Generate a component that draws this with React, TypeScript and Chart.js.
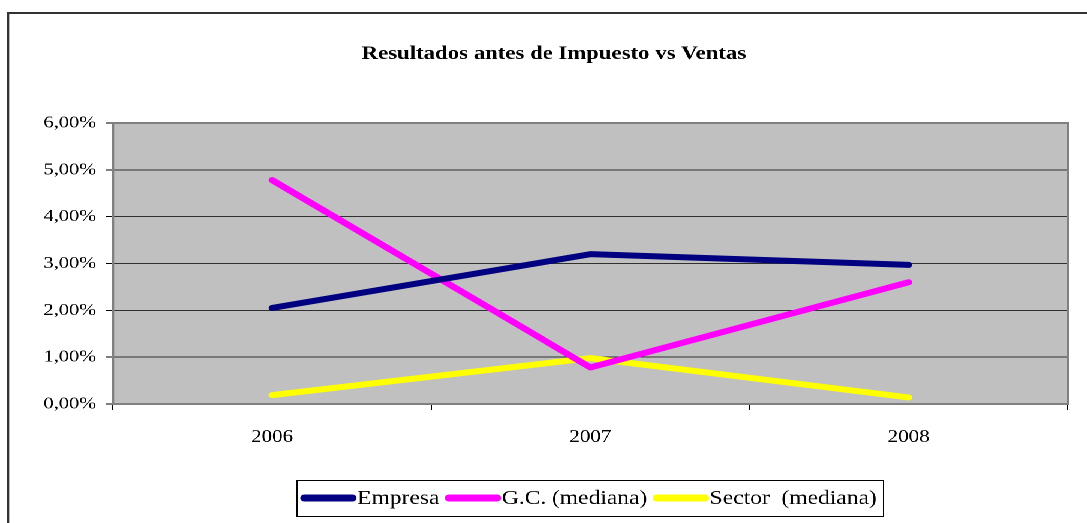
import React, { useEffect, useRef } from "react";
import { Chart, registerables } from "chart.js";

Chart.register(...registerables);

const categories = ["2006", "2007", "2008"];
const empresa = [2.05, 3.2, 2.97];
const gcMediana = [4.78, 0.78, 2.6];
const sectorMediana = [0.19, 0.98, 0.14];
const seriesNames = ["Empresa", "G.C. (mediana)", "Sector  (mediana)"];
const seriesColors = ["#000080", "#FF00FF", "#FFFF00"];
const titleText = "Resultados antes de Impuesto vs Ventas";

const SCALE_X = 1.2;
const W = Math.round(1087 / SCALE_X);
const H = 523;
const SERIF = "'Liberation Serif', 'Times New Roman', serif";

const decorPlugin = {
  id: "decor",
  beforeDraw(chart: any) {
    const { ctx, chartArea } = chart;
    ctx.save();
    ctx.fillStyle = "#FFFFFF";
    ctx.fillRect(0, 0, chart.width, chart.height);
    ctx.strokeStyle = "#333333";
    ctx.lineWidth = 2;
    ctx.strokeRect(8 / SCALE_X, 13, chart.width + 20, chart.height + 20);
    ctx.fillStyle = "#C0C0C0";
    ctx.fillRect(chartArea.left, chartArea.top, chartArea.right - chartArea.left, chartArea.bottom - chartArea.top);
    ctx.fillStyle = "#000";
    ctx.font = `bold 19px ${SERIF}`;
    ctx.textAlign = "center";
    ctx.textBaseline = "middle";
    ctx.fillText(titleText, 554 / SCALE_X, 54);
    ctx.restore();
  },
  afterDatasetsDraw(chart: any) {
    const { ctx, chartArea } = chart;
    ctx.save();
    ctx.strokeStyle = "#808080";
    ctx.lineWidth = 2;
    ctx.strokeRect(chartArea.left, chartArea.top, chartArea.right - chartArea.left, chartArea.bottom - chartArea.top);
    ctx.restore();
  },
  afterDraw(chart: any) {
    const { ctx } = chart;
    ctx.save();
    ctx.font = `19.6px ${SERIF}`;
    ctx.textBaseline = "middle";
    ctx.textAlign = "left";
    const boxLeft = 296 / SCALE_X;
    const boxTop = 480;
    const boxBottom = 516;
    const cy = (boxTop + boxBottom) / 2;
    let x = boxLeft + 4;
    const lineLen = 46;
    chart.data.datasets.forEach((ds: any) => {
      ctx.strokeStyle = ds.borderColor;
      ctx.lineWidth = 7;
      ctx.lineCap = "round";
      ctx.beginPath();
      ctx.moveTo(x + 3, cy);
      ctx.lineTo(x + lineLen - 3, cy);
      ctx.stroke();
      x += lineLen + 1;
      ctx.fillStyle = "#000";
      ctx.fillText(ds.label, x, cy + 1);
      x += ctx.measureText(ds.label).width + 5;
    });
    const boxRight = x;
    ctx.strokeStyle = "#000";
    ctx.lineWidth = 1;
    ctx.strokeRect(Math.round(boxLeft) + 0.5, boxTop + 0.5, Math.round(boxRight - boxLeft), boxBottom - boxTop);
    ctx.restore();
  },
};

export default function App() {
  const canvasRef = useRef<HTMLCanvasElement | null>(null);

  useEffect(() => {
    if (!canvasRef.current) return;
    const values = [empresa, gcMediana, sectorMediana];
    const chart = new Chart(canvasRef.current, {
      type: "line",
      data: {
        labels: categories,
        datasets: values.map((v, i) => ({
          label: seriesNames[i],
          data: v,
          borderColor: seriesColors[i],
          backgroundColor: seriesColors[i],
          borderWidth: 6,
          borderCapStyle: "round",
          borderJoinStyle: "round",
          pointRadius: 0,
          tension: 0,
          fill: false,
        })),
      },
      options: {
        animation: false,
        responsive: true,
        maintainAspectRatio: false,
        devicePixelRatio: 2,
        layout: { padding: { left: 0, right: W - 1068 / SCALE_X, top: 123, bottom: 0 } },
        plugins: {
          legend: { display: false },
          title: { display: false },
          tooltip: { enabled: false },
        },
        scales: {
          x: {
            type: "category",
            offset: true,
            grid: {
              offset: true,
              drawOnChartArea: false,
              drawTicks: true,
              tickLength: 6,
              color: "#000",
            },
            border: { display: false },
            ticks: {
              color: "#000",
              font: { family: SERIF, size: 17.5 },
              padding: 17,
            },
            afterFit: (scale: any) => {
              scale.height = 119;
            },
          },
          y: {
            min: 0,
            max: 6,
            grid: {
              color: "#303030",
              lineWidth: 1,
              tickLength: 6,
              tickColor: "#000",
            },
            border: { display: false },
            ticks: {
              stepSize: 1,
              color: "#000",
              font: { family: SERIF, size: 17 },
              padding: 8,
              callback: (v: any) => Number(v).toFixed(2).replace(".", ",") + "%",
            },
            afterFit: (scale: any) => {
              scale.width = 113 / SCALE_X;
            },
          },
        },
      },
      plugins: [decorPlugin],
    } as any);
    return () => chart.destroy();
  }, []);

  return (
    <div
      style={{
        position: "fixed",
        left: 0,
        top: 0,
        width: W + "px",
        height: H + "px",
        transform: `scaleX(${1087 / W})`,
        transformOrigin: "0 0",
        background: "#fff",
      }}
    >
      <canvas ref={canvasRef} />
    </div>
  );
}
